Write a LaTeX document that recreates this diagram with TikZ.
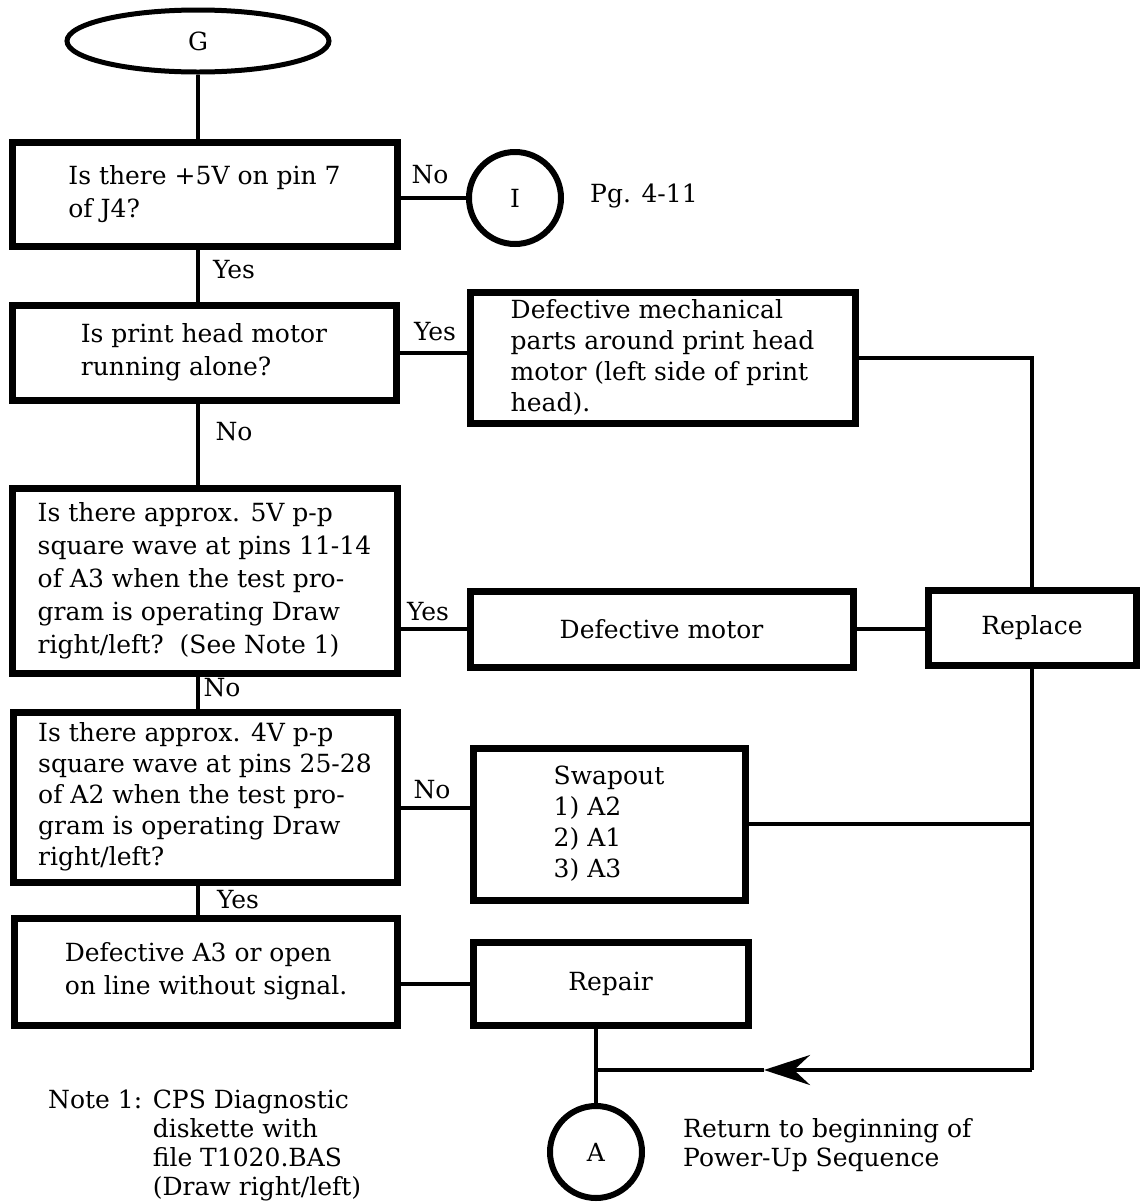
\documentclass[tikz,border=0pt]{standalone}
\usepackage{fontspec}
\setmainfont{DejaVu Serif}
\usetikzlibrary{shapes.geometric,arrows.meta}

\tikzset{
  box/.style={draw, rectangle, line width=7pt, inner sep=0pt},
  startoval/.style={draw, ellipse, line width=5pt, minimum width=262pt, minimum height=62pt, inner sep=0pt},
  linkcirc/.style={draw, circle, line width=6pt, minimum size=92pt, inner sep=0pt},
  conn/.style={line width=4pt},
  lbl/.style={inner sep=0pt},
}

\begin{document}
\begin{tikzpicture}[x=1pt, y=-1pt, font=\fontsize{25}{33}\selectfont]
    \useasboundingbox (0,0) rectangle (1141,1203);

    % Nodes
    \node [startoval] (G) at (198,41) {G};
    \node [box, minimum width=385pt, minimum height=104pt, align=left] (q1) at (204.5,194.5)
      {Is there +5V on pin 7\\of J4?};
    \node [linkcirc] (I) at (515,198) {I};
    \node [lbl, anchor=west] (pg) at (590,196) {Pg. 4-11};
    \node [box, minimum width=384pt, minimum height=95pt, align=left] (q2) at (204,352.5)
      {Is print head motor\\running alone?};
    \node [box, minimum width=385pt, minimum height=131pt, align=left,
      font=\fontsize{25}{31}\selectfont] (mech) at (662.5,357.5)
      {Defective mechanical\\parts around print head\\motor (left side of print\\head).};
    \node [box, minimum width=385pt, minimum height=185pt, align=left] (q3) at (204.5,580.5)
      {Is there approx. 5V p-p\\square wave at pins 11-14\\of A3 when the test pro-\\gram is operating Draw\\right/left?\ \ (See Note 1)};
    \node [box, minimum width=383pt, minimum height=76pt] (motor) at (661.5,629) {Defective motor};
    \node [box, minimum width=208pt, minimum height=75pt] (repl) at (1032,628) {Replace};
    \node [box, minimum width=384pt, minimum height=170pt, align=left,
      font=\fontsize{25}{31}\selectfont] (q4) at (205,797)
      {Is there approx. 4V p-p\\square wave at pins 25-28\\of A2 when the test pro-\\gram is operating Draw\\right/left?};
    \node [box, minimum width=272pt, minimum height=152pt, align=left,
      font=\fontsize{25}{31}\selectfont] (swap) at (609,824)
      {Swapout\\1) A2\\2) A1\\3) A3};
    \node [box, minimum width=383pt, minimum height=107pt, align=left] (defA3) at (206,971.5)
      {Defective A3 or open\\on line without signal.};
    \node [box, minimum width=275pt, minimum height=83pt] (rep) at (610.5,983.5) {Repair};
    \node [linkcirc] (A) at (596,1152) {A};
    \node [lbl, anchor=west, align=left, font=\fontsize{25}{29}\selectfont] (ret) at (683,1145)
      {Return to beginning of\\Power-Up Sequence};
    \node [lbl, anchor=north west, font=\fontsize{25}{29}\selectfont] (note) at (48,1088)
      {\begin{tabular}{@{}l@{ }l@{}}Note 1: & CPS Diagnostic\\ & diskette with\\ & file T1020.BAS\\ & (Draw right/left)\end{tabular}};

    % Labels
    \node [lbl] (no1) at (430,175) {No};
    \node [lbl] (yes1) at (234,270) {Yes};
    \node [lbl] (yes2) at (435,332) {Yes};
    \node [lbl] (no2) at (234,432) {No};
    \node [lbl] (yes3) at (428,612) {Yes};
    \node [lbl] (no3) at (222,688) {No};
    \node [lbl] (no4) at (432,790) {No};
    \node [lbl] (yes4) at (238,900) {Yes};

    % Corners of the return path
    \coordinate (corner) at (1032,1070);
    \coordinate (tip) at (764,1070);
    \coordinate (junc) at (596,1070);

    % Connections
    \draw [conn] (G) -- (G |- q1.north);
    \draw [conn] (q1.east |- I) -- (I);
    \draw [conn] (q1.south -| G) -- (q2.north -| G);
    \draw [conn] (q2.east) -- (q2.east -| mech.west);
    \draw [conn] (mech.east) -- (mech.east -| repl) -- (repl.north);
    \draw [conn] (q2.south -| G) -- (q3.north -| G);
    \draw [conn] (q3.east |- motor) -- (motor.west);
    \draw [conn] (motor.east) -- (motor.east -| repl.west);
    \draw [conn] (q3.south -| G) -- (q4.north -| G);
    \draw [conn] ([yshift=-11pt]q4.east) -- ([yshift=-11pt]q4.east -| swap.west);
    \draw [conn] (swap.east) -- (swap.east -| repl);
    \draw [conn] (q4.south -| G) -- (defA3.north -| G);
    \draw [conn] (defA3.east |- rep.west) -- (rep.west);
    \draw [conn] (repl.south) -- (corner);
    \draw [conn, -{Stealth[length=46pt, width=30pt, inset=16pt]}] (corner) -- (tip);
    \draw [conn] (tip) -- (junc);
    \draw [conn] (rep.south -| junc) -- (junc) -- (A);
\end{tikzpicture}
\end{document}
